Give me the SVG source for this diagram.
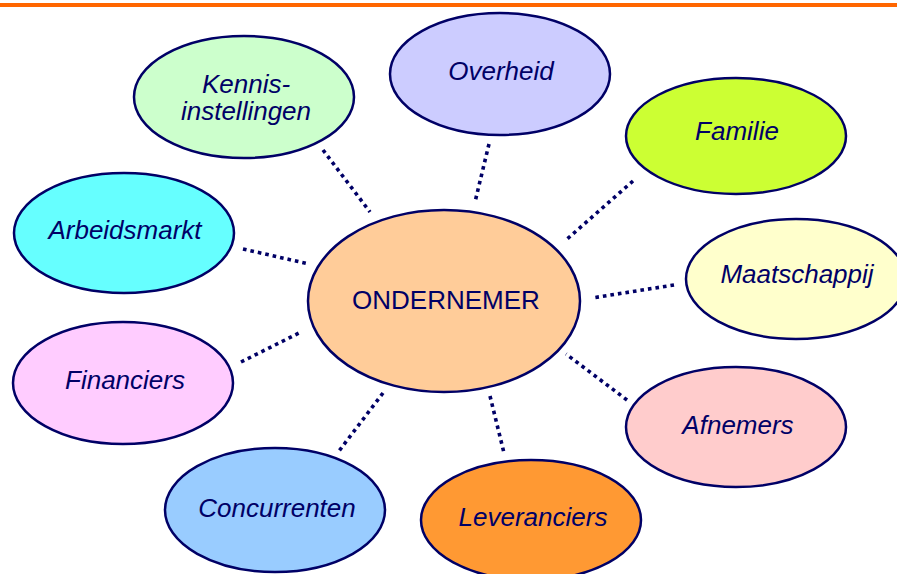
<svg xmlns="http://www.w3.org/2000/svg" width="897" height="574" viewBox="0 0 897 574">
<style>
.n{stroke:#000066;stroke-width:2.5}
.t{font-family:"Liberation Sans",Arial,sans-serif;font-size:26px;font-style:italic;fill:#000066;text-anchor:middle}
.c{stroke:#000066;stroke-width:3.6;stroke-dasharray:3.6 4;fill:none}
</style>
<rect x="0" y="3" width="897" height="4" fill="#FF6600"/>
<g id="connectors">
<line class="c" x1="323" y1="150" x2="370" y2="212"/>
<line class="c" x1="489" y1="144" x2="475" y2="202"/>
<line class="c" x1="633" y1="181" x2="566" y2="240"/>
<line class="c" x1="674" y1="285" x2="592" y2="298"/>
<line class="c" x1="243" y1="249" x2="309" y2="264"/>
<line class="c" x1="241" y1="362" x2="301" y2="332"/>
<line class="c" x1="627" y1="400" x2="566" y2="354"/>
<line class="c" x1="490" y1="396" x2="504" y2="453"/>
<line class="c" x1="383" y1="393" x2="339" y2="451"/>
</g>
<g id="ondernemer"><ellipse class="n" cx="444" cy="301" rx="136" ry="91" fill="#FFCC99"/><text class="t" x="446" y="309" style="font-style:normal">ONDERNEMER</text></g>
<g id="kennis"><ellipse class="n" cx="244" cy="97" rx="110" ry="61" fill="#CCFFCC"/><text class="t" x="246" y="93">Kennis-</text><text class="t" x="246" y="120">instellingen</text></g>
<g id="overheid"><ellipse class="n" cx="500" cy="74" rx="110" ry="61" fill="#CCCCFF"/><text class="t" x="501" y="80">Overheid</text></g>
<g id="familie"><ellipse class="n" cx="736" cy="136" rx="110" ry="58" fill="#CCFF33"/><text class="t" x="737" y="140">Familie</text></g>
<g id="maatschappij"><ellipse class="n" cx="796" cy="279" rx="110" ry="60" fill="#FFFFCC"/><text class="t" x="797" y="283">Maatschappij</text></g>
<g id="arbeidsmarkt"><ellipse class="n" cx="124" cy="233" rx="110" ry="60" fill="#66FFFF"/><text class="t" x="125" y="239">Arbeidsmarkt</text></g>
<g id="financiers"><ellipse class="n" cx="123" cy="383" rx="110" ry="61" fill="#FFCCFF"/><text class="t" x="125" y="389">Financiers</text></g>
<g id="afnemers"><ellipse class="n" cx="736" cy="427" rx="110" ry="60" fill="#FFCCCC"/><text class="t" x="738" y="434">Afnemers</text></g>
<g id="concurrenten"><ellipse class="n" cx="275" cy="510" rx="110" ry="62" fill="#99CCFF"/><text class="t" x="277" y="517">Concurrenten</text></g>
<g id="leveranciers"><ellipse class="n" cx="531" cy="520" rx="110" ry="60" fill="#FF9933"/><text class="t" x="533" y="526">Leveranciers</text></g>
</svg>
